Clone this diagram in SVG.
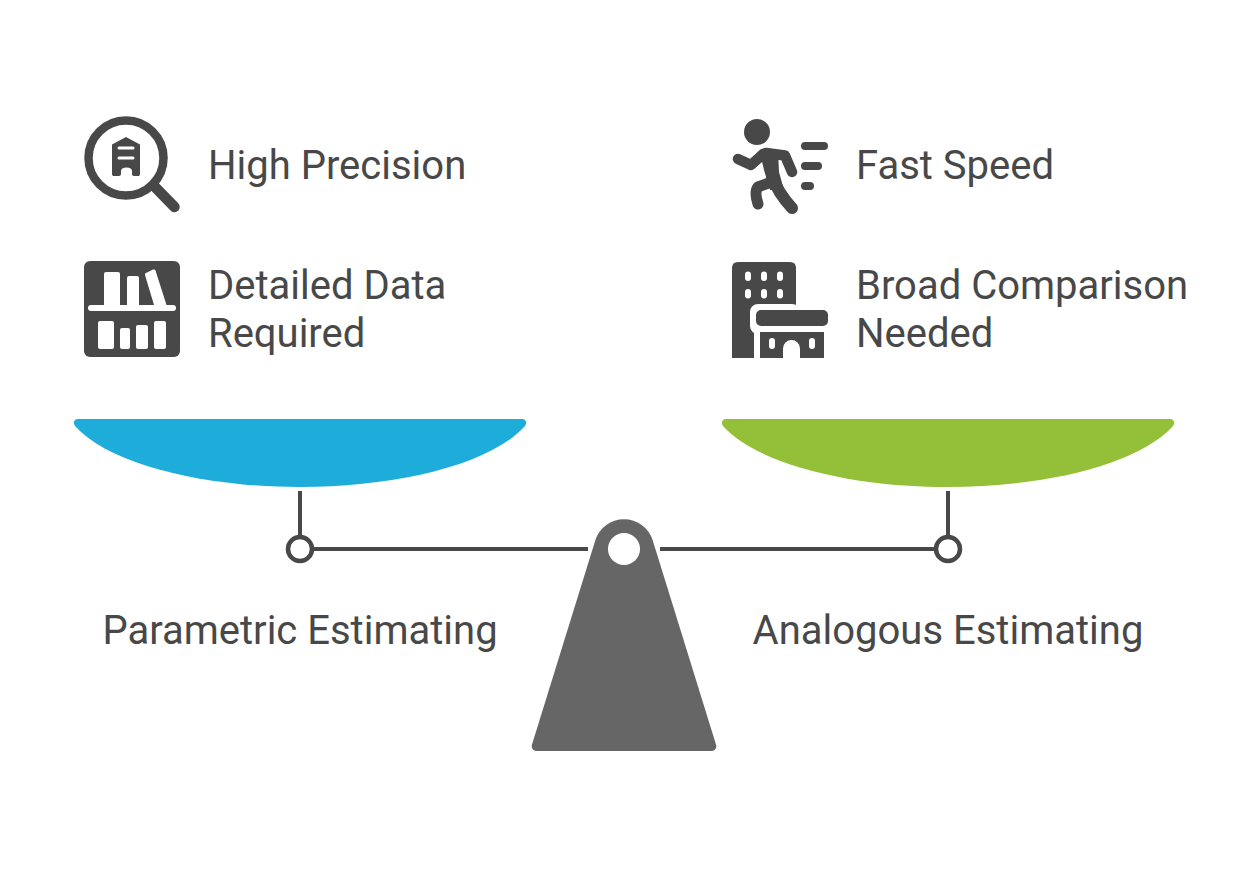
<svg xmlns="http://www.w3.org/2000/svg" width="1248" height="872" viewBox="0 0 1248 872">
<style>
.t{font-family:Roboto,"Liberation Sans",sans-serif;font-size:40px;fill:#484848}
.m{text-anchor:middle}
.d{fill:#484848}
.w{fill:#fff}
.s{fill:none;stroke:#484848;stroke-linecap:round;stroke-linejoin:round}
.l{fill:none;stroke:#484848;stroke-width:4}
.c{fill:#fff;stroke:#484848;stroke-width:4.500}
</style>
<rect width="1248" height="872" fill="#fff"/>
<g id="connectors">
<path class="l" d="M300 491V535M314 549H588M948 491V535M660 549H934"/>
</g>
<g id="pan-left"><path fill="#1eacdb" d="M78 419H522C526 419 527.500 423 525 426C490 465 395 487 300 487C205 487 110 465 75 426C72.500 423 74 419 78 419Z"/></g>
<g id="pan-right"><path fill="#94bf38" d="M726 419H1170C1174 419 1175.500 423 1173 426C1138 465 1043 487 948 487C853 487 758 465 723 426C720.500 423 722 419 726 419Z"/></g>
<g id="pivot-left"><circle class="c" cx="300" cy="549" r="12"/></g>
<g id="pivot-right"><circle class="c" cx="948" cy="549" r="12"/></g>
<g id="fulcrum">
<path fill="#666" d="M595.400 540.100A30 30 0 0 1 652.600 540.100L716 744.500C717 748 715 751 711.500 751H536.500C533 751 531 748 532 744.500Z"/>
<circle class="w" cx="624" cy="549" r="16"/>
</g>
<g id="icon-precision">
<circle cx="126" cy="158" r="37.500" fill="none" stroke="#484848" stroke-width="8.500"/>
<path class="s" stroke-width="10.500" d="M155 187L174.500 207"/>
<path class="d" d="M112 144.500L126 137L140 144.500V174C140 175.500 139 176 138 176H134C132.800 176 132 175.200 132 174V171C132 169 130 167.500 126.500 167.500C123 167.500 121 169 121 171V174C121 175.200 120.200 176 119 176H114C113 176 112 175.500 112 174Z"/>
<path d="M119 148H133M119 158H133" stroke="#fff" stroke-width="3" stroke-linecap="round"/>
</g>
<g id="icon-data">
<rect class="d" x="84" y="261" width="96" height="96" rx="6"/>
<rect class="w" x="88" y="305" width="88" height="6" rx="3"/>
<path class="w" d="M104 305V274Q104 272 106 272H118Q120 272 120 274V305ZM127 305V278Q127 276 129 276H137Q139 276 139 278V305ZM154 305L145 275Q144.500 273.500 146 273L153 269.500Q155 269 155.500 270.500L166.500 305Z"/>
<rect class="w" x="98" y="321" width="16" height="28" rx="2"/>
<rect class="w" x="120" y="328" width="10" height="21" rx="2"/>
<rect class="w" x="136" y="325" width="12" height="24" rx="2"/>
<rect class="w" x="154" y="321" width="12" height="28" rx="2"/>
</g>
<g id="icon-speed">
<circle class="d" cx="757" cy="132" r="13"/>
<path class="s" stroke-width="10.500" d="M738 159L751 165L763 154"/>
<path class="s" stroke-width="10.500" d="M766 153L785 155.500L792 172"/>
<path class="d" d="M760 153L778 150L779 172L784 190L770 190L764 170Z"/>
<path class="s" stroke-width="12" d="M772 176Q778 193 792 208"/>
<path class="s" stroke-width="11" d="M774 181L758 187Q754 192 758 204"/>
<path class="s" stroke-width="8" d="M805 146H824M805 166H818M805 186H810"/>
</g>
<g id="icon-comparison">
<path class="d" d="M732 358V268Q732 262 738 262H790Q796 262 796 268V310H760V358Z"/>
<rect class="w" x="750" y="304" width="50" height="30" rx="8"/>
<rect class="w" x="754" y="320" width="6" height="38"/>
<g class="w"><rect x="745" y="271.500" width="6" height="9.500" rx="3"/><rect x="761" y="271.500" width="6" height="9.500" rx="3"/><rect x="777" y="271.500" width="6" height="9.500" rx="3"/><rect x="745" y="289" width="6" height="9.500" rx="3"/><rect x="761" y="289" width="6" height="9.500" rx="3"/><rect x="777" y="289" width="6" height="9.500" rx="3"/></g>
<rect class="d" x="756" y="310" width="72" height="16" rx="5"/>
<path class="d" d="M760 332H824V358H800V348.500A8.500 8.500 0 0 0 783 348.500V358H760Z"/>
<rect class="w" x="769" y="338" width="6" height="11" rx="3"/>
<rect class="w" x="809" y="338" width="6" height="11" rx="3"/>
</g>
<g id="labels" opacity="0.999">
<text class="t" x="208" y="179">High Precision</text>
<text class="t" x="208" y="299">Detailed Data</text>
<text class="t" x="208" y="347">Required</text>
<text class="t" x="856" y="179">Fast Speed</text>
<text class="t" x="856" y="299">Broad Comparison</text>
<text class="t" x="856" y="347">Needed</text>
<text class="t m" x="300" y="644">Parametric Estimating</text>
<text class="t m" x="948" y="644">Analogous Estimating</text>
</g>
</svg>
